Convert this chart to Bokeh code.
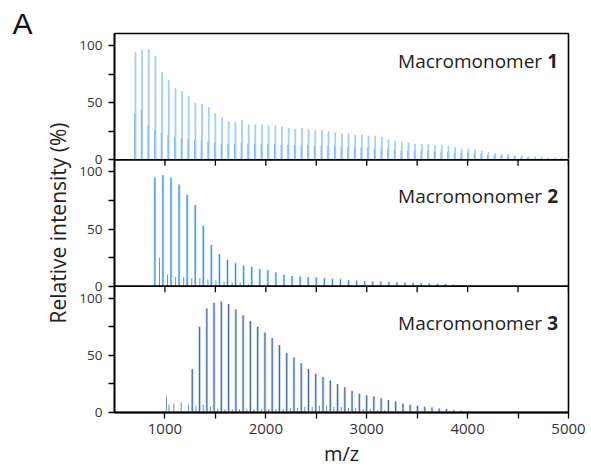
from bokeh.plotting import figure
from bokeh.models import Range1d, FixedTicker, Label, Span, Title
from bokeh.embed import file_html
from bokeh.resources import INLINE

FONT = "Open Sans"

# ---------------- data ----------------
# Macromonomer 1: main peak series (m/z, relative intensity %)
mz1 = [708, 774, 840, 906, 972, 1038, 1104, 1170, 1236, 1302, 1368, 1434, 1500,
       1566, 1632, 1698, 1764, 1830, 1896, 1962, 2028, 2094, 2160, 2226, 2292,
       2358, 2424, 2490, 2556, 2622, 2688, 2754, 2820, 2886, 2952, 3018, 3084,
       3150, 3216, 3282, 3348, 3414, 3480, 3546, 3612, 3678, 3744, 3810, 3876,
       3942, 4008, 4074, 4140, 4206, 4272, 4338, 4404, 4470, 4536, 4602, 4668,
       4734, 4800, 4866, 4932, 4998]
int1 = [94, 96, 97, 91, 77, 70, 63, 60, 56, 50, 49, 46, 41, 37, 34, 33, 35, 31,
        31, 31, 30, 30, 29, 28, 27, 28, 27, 26, 26, 25, 24, 23, 23, 22, 22, 21,
        21, 20, 18, 17, 16, 15, 14, 14, 14, 13, 13, 12, 11, 10, 10, 9, 8, 7, 6,
        5, 5, 4, 4, 3, 3, 3, 2, 2, 2, 1.5]
# Macromonomer 1: companion peaks (shorter, next to each main peak)
mz1_b = [700, 766, 832, 898, 964, 1030, 1096, 1162, 1228, 1294, 1360, 1426,
         1492, 1558, 1624, 1690, 1756, 1822, 1888, 1954, 2020, 2086, 2152, 2218,
         2284, 2350, 2416, 2482, 2548, 2614, 2680, 2746, 2812, 2878, 2944, 3010,
         3076, 3142, 3208, 3274, 3340, 3406, 3472, 3538, 3604, 3670, 3736, 3802,
         3868, 3934, 4000, 4066, 4132, 4198, 4264, 4330, 4396, 4462, 4528, 4594]
int1_b = [40, 44, 30, 26, 24, 22, 20, 19, 18, 17, 17, 16, 15, 14, 14, 14, 15,
          14, 14, 14, 14, 14, 13, 13, 13, 13, 13, 12, 12, 12, 12, 11, 11, 11, 11,
          11, 10, 10, 9, 9, 8, 8, 8, 8, 8, 7, 7, 7, 6, 6, 6, 5, 5, 4, 4, 3, 3, 3,
          2, 2]

# Macromonomer 2
mz2 = [900, 980, 1060, 1140, 1220, 1300, 1380, 1460, 1540, 1620, 1700, 1780,
       1860, 1940, 2020, 2100, 2180, 2260, 2340, 2420, 2500, 2580, 2660, 2740,
       2820, 2900, 2980, 3060, 3140, 3220, 3300, 3380, 3460, 3540, 3620, 3700,
       3780, 3860, 3940]
int2 = [95, 97, 95, 89, 80, 71, 53, 36, 28, 23, 20, 18, 17, 15, 14, 12, 10, 9,
        8.5, 8, 7.5, 7, 6.5, 6, 5.5, 5, 4.5, 4.2, 4, 3.8, 3.5, 3.2, 3, 2.8, 2.5,
        2.2, 2, 1.5, 1]
mz2_b = [946, 1026, 1106, 1186, 1266, 1346, 1426, 1506, 1586, 1666, 1746, 1826]
int2_b = [25, 10, 8, 8, 7, 7, 6, 5, 4, 3, 3, 2]

# Macromonomer 3
mz3 = [1271, 1343, 1415, 1487, 1559, 1631, 1703, 1775, 1847, 1919, 1991, 2063,
       2135, 2207, 2279, 2351, 2423, 2495, 2567, 2639, 2711, 2783, 2855, 2927,
       2999, 3071, 3143, 3215, 3287, 3359, 3431, 3503, 3575, 3647, 3719, 3791,
       3863, 3935, 4007]
int3 = [38, 75, 91, 96, 97, 95, 90, 85, 80, 75, 70, 65, 59, 52, 48, 43, 38, 34,
        31, 28, 25, 22, 19, 16.5, 15, 14, 12.5, 11, 9.6, 7.8, 6.7, 5.8, 5, 4.4,
        3.5, 3, 2, 1.5, 1]
mz3_b = [1016, 1040, 1089, 1161, 1233, 1307, 1379, 1451, 1523, 1595, 1667, 1739,
         1811, 1883, 1955, 2027, 2099, 2171, 2243, 2315, 2387, 2459, 2531, 2603,
         2675, 2747, 2819, 2891, 2963, 3035, 3107, 3179]
int3_b = [14, 7, 8, 9, 7, 6, 7, 5, 3, 3, 3, 3, 3, 3, 3, 3, 3, 3, 4, 4, 5, 5, 6,
          6, 5, 5, 4, 4, 3, 3, 2, 2]

panel_names = ["Macromonomer", "Macromonomer", "Macromonomer"]
panel_nums = ["1", "2", "3"]
panel_letter = "A"

x_ticks = [1000, 2000, 3000, 4000, 5000]
x_minor = [1500, 2500, 3500, 4500]
y_ticks = [0, 50, 100]
y_minor = [25, 75]

# ---------------- layout / style ----------------
PANEL_SPAN = 110.5                 # each stacked panel covers 0..110.5 %
N = 3
offsets = [2 * PANEL_SPAN, PANEL_SPAN, 0.0]   # panel 1 on top, panel 3 at bottom
FRAME_H = 379
PX_PER_UNIT = FRAME_H / (N * PANEL_SPAN)
TICK_PX = 6

p = figure(frame_width=454, frame_height=FRAME_H,
           x_range=Range1d(500, 5000), y_range=Range1d(0, N * PANEL_SPAN),
           toolbar_location=None, output_backend="svg",
           min_border_left=114, min_border_right=23,
           min_border_top=33, min_border_bottom=0,
           background_fill_color="white", border_fill_color="white")
p.title = Title(text=panel_letter, align="left", offset=-102,
                text_font="Liberation Sans", text_font_size="30px",
                text_font_style="normal", text_color="#111111",
                standoff=-12, vertical_align="bottom")
p.grid.visible = False
p.outline_line_color = "black"
p.outline_line_width = 1.6

# y axis: one real axis, ticks repeated for every stacked panel
major_pos, minor_pos, overrides = [], [], {}
for o in offsets:
    for t in y_ticks:
        major_pos.append(o + t)
        overrides[o + t] = str(t)
    for t in y_minor:
        minor_pos.append(o + t)
ya = p.yaxis[0]
ya.ticker = FixedTicker(ticks=major_pos, minor_ticks=minor_pos)
ya.major_label_overrides = overrides
ya.major_tick_out = TICK_PX
ya.major_tick_in = 0
ya.minor_tick_out = TICK_PX
ya.minor_tick_in = 0
ya.axis_line_width = 1.6
ya.major_tick_line_width = 1.3
ya.minor_tick_line_width = 1.3
ya.major_label_text_font = FONT
ya.major_label_text_font_size = "13.5px"
ya.major_label_text_color = "#333333"
ya.major_label_standoff = 6
ya.axis_label = "Relative intensity (%)"
ya.axis_label_text_font = FONT
ya.axis_label_text_font_size = "21px"
ya.axis_label_text_font_style = "normal"
ya.axis_label_text_color = "#222222"
ya.axis_label_standoff = 4

xa = p.xaxis[0]
xa.ticker = FixedTicker(ticks=x_ticks, minor_ticks=x_minor)
xa.major_tick_out = TICK_PX
xa.major_tick_in = 0
xa.minor_tick_out = TICK_PX
xa.minor_tick_in = 0
xa.axis_line_width = 2
xa.major_tick_line_width = 1.3
xa.minor_tick_line_width = 1.3
xa.major_label_text_font = FONT
xa.major_label_text_font_size = "15px"
xa.major_label_text_color = "#333333"
xa.major_label_standoff = 5
xa.axis_label = "m/z"
xa.axis_label_text_font = FONT
xa.axis_label_text_font_size = "20px"
xa.axis_label_text_font_style = "normal"
xa.axis_label_text_color = "#222222"
xa.axis_label_standoff = 3

# separators between the stacked panels, with their downward ticks
tick_len = TICK_PX / PX_PER_UNIT
for o in offsets[:-1]:
    p.add_layout(Span(location=o, dimension="width", line_color="black",
                      line_width=1.8))
    xs = x_ticks + x_minor
    p.segment(x0=xs, y0=o, x1=xs, y1=o - tick_len, line_color="black",
              line_width=1.3)


def shift(vals, o):
    return [v + o for v in vals]


# Panel 1
o = offsets[0]
p.segment(x0=mz1, y0=o, x1=mz1, y1=shift(int1, o), line_color="#a6cff6", line_width=1.8)
p.segment(x0=mz1_b, y0=o, x1=mz1_b, y1=shift(int1_b, o), line_color="#7db7ee", line_width=1.1)

# Panel 2
o = offsets[1]
p.segment(x0=mz2, y0=o, x1=mz2, y1=shift(int2, o), line_color="#b5d6f6", line_width=2.4)
p.segment(x0=mz2, y0=o, x1=mz2, y1=shift(int2, o), line_color="#3b8be2", line_width=1.0)
p.segment(x0=mz2_b, y0=o, x1=mz2_b, y1=shift(int2_b, o), line_color="#4b95e4", line_width=1.0)

# Panel 3
o = offsets[2]
p.segment(x0=mz3, y0=o, x1=mz3, y1=shift(int3, o), line_color="#bccee6", line_width=2.6)
p.segment(x0=mz3, y0=o, x1=mz3, y1=shift(int3, o), line_color="#44689f", line_width=1.0)
p.segment(x0=mz3_b, y0=o, x1=mz3_b, y1=shift(int3_b, o), line_color="#6a8cc0", line_width=1.0)

# panel names (digit bold)
name_drop_px = [27.5, 36.0, 36.7]
for i, o in enumerate(offsets):
    yb = o + PANEL_SPAN - name_drop_px[i] / PX_PER_UNIT
    p.add_layout(Label(x=4897, y=yb, text=panel_nums[i], text_align="right",
                       text_baseline="alphabetic", text_font=FONT,
                       text_font_size="19px", text_font_style="bold",
                       text_color="#222222"))
    p.add_layout(Label(x=4897, y=yb, x_offset=-16, text=panel_names[i],
                       text_align="right", text_baseline="alphabetic",
                       text_font=FONT, text_font_size="19px",
                       text_color="#222222"))

open("out.html", "w").write(file_html(p, INLINE))
